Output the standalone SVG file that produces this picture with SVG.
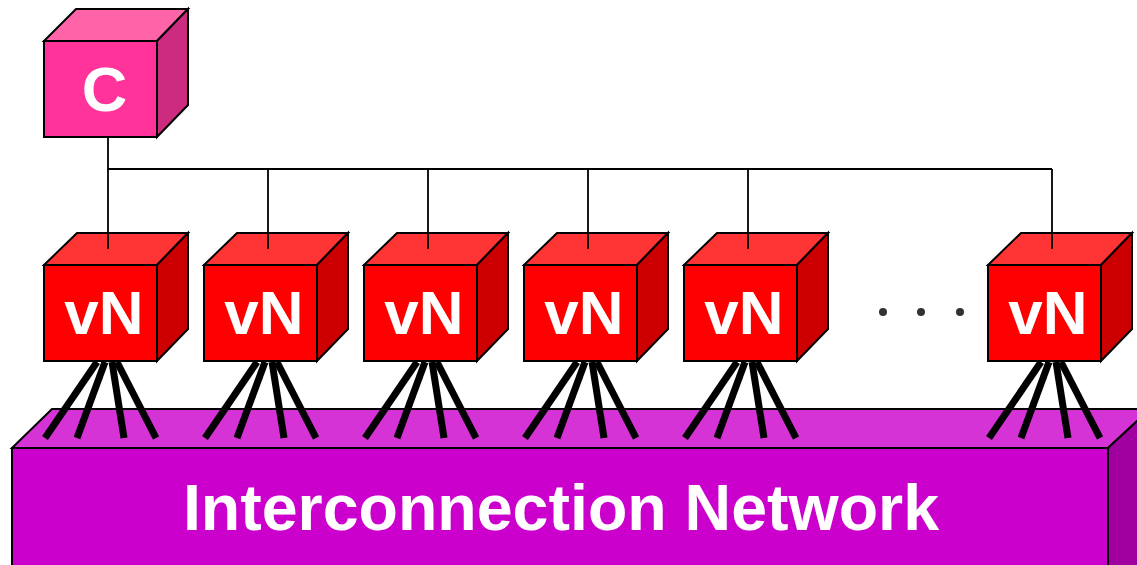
<svg xmlns="http://www.w3.org/2000/svg" xmlns:xlink="http://www.w3.org/1999/xlink" width="1137" height="565" viewBox="0 0 1137 565">
  <style>
    .edge { stroke: #000; stroke-width: 2; stroke-linejoin: miter; }
    .wire { fill: none; stroke: #000; stroke-width: 1.8; }
    .leg { stroke: #000; stroke-width: 7; stroke-linecap: butt; }
    .label { font-family: "Liberation Sans", Arial, sans-serif; font-weight: bold; fill: #fff; text-anchor: middle; }
    .vn-front { fill: #ff0000; }
    .vn-top { fill: #ff3535; }
    .vn-side { fill: #cc0000; }
  </style>
  <defs>
    <!-- one vN node: cube at origin, front face 113x96 -->
    <g id="vn">
      <polygon class="edge vn-top" points="0,265 33,233 144,233 113,265"/>
      <polygon class="edge vn-side" points="113,265 144,233 144,329 113,361"/>
      <rect class="edge vn-front" x="0" y="265" width="113" height="96"/>
      <text class="label" x="60" y="334" font-size="62">vN</text>
      <line class="leg" x1="53" y1="362" x2="1" y2="438"/>
      <line class="leg" x1="61" y1="362" x2="33" y2="438"/>
      <line class="leg" x1="68" y1="362" x2="80" y2="438"/>
      <line class="leg" x1="73" y1="362" x2="112" y2="438"/>
    </g>
  </defs>

  <!-- interconnection network slab -->
  <g id="network">
    <polygon class="edge" fill="#d633d6" points="12,448 52,409 1150,409 1108,448"/>
    <polygon class="edge" fill="#a000a0" points="1108,448 1150,409 1150,570 1108,570"/>
    <rect class="edge" fill="#cc00cc" x="12" y="448" width="1096" height="122"/>
    <text class="label" x="561" y="530" font-size="64.5">Interconnection Network</text>
  </g>

  <!-- bus from the controller to every vN -->
  <g id="connectors">
    <polyline class="wire" points="108,137 108,169 1052,169"/>
    <line class="wire" x1="108" y1="169" x2="108" y2="249"/>
    <line class="wire" x1="268" y1="169" x2="268" y2="249"/>
    <line class="wire" x1="428" y1="169" x2="428" y2="249"/>
    <line class="wire" x1="588" y1="169" x2="588" y2="249"/>
    <line class="wire" x1="748" y1="169" x2="748" y2="249"/>
    <line class="wire" x1="1052" y1="169" x2="1052" y2="249"/>
  </g>

  <!-- controller -->
  <g id="controller">
    <polygon class="edge" fill="#ff63a8" points="44,41 76,9 188,9 157,41"/>
    <polygon class="edge" fill="#cc2b7f" points="157,41 188,9 188,105 157,137"/>
    <rect class="edge" fill="#ff3399" x="44" y="41" width="113" height="96"/>
    <text class="label" x="104.5" y="111" font-size="63">C</text>
  </g>

  <!-- vN nodes -->
  <g id="vn1"><use xlink:href="#vn" transform="translate(44,0)"/><line class="wire" x1="108" y1="233" x2="108" y2="249"/></g>
  <g id="vn2"><use xlink:href="#vn" transform="translate(204,0)"/><line class="wire" x1="268" y1="233" x2="268" y2="249"/></g>
  <g id="vn3"><use xlink:href="#vn" transform="translate(364,0)"/><line class="wire" x1="428" y1="233" x2="428" y2="249"/></g>
  <g id="vn4"><use xlink:href="#vn" transform="translate(524,0)"/><line class="wire" x1="588" y1="233" x2="588" y2="249"/></g>
  <g id="vn5"><use xlink:href="#vn" transform="translate(684,0)"/><line class="wire" x1="748" y1="233" x2="748" y2="249"/></g>
  <g id="vn6"><use xlink:href="#vn" transform="translate(988,0)"/><line class="wire" x1="1052" y1="233" x2="1052" y2="249"/></g>

  <!-- ellipsis between the fifth and last vN -->
  <g id="ellipsis" fill="#333">
    <circle cx="883" cy="312" r="4"/>
    <circle cx="921" cy="312" r="4"/>
    <circle cx="960" cy="312" r="4"/>
  </g>
</svg>
